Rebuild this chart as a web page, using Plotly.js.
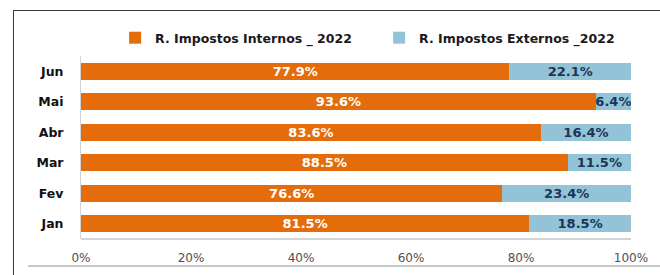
<!DOCTYPE html>
<html>
<head>
<meta charset="utf-8">
<script src="https://cdn.plot.ly/plotly-3.0.1.min.js"></script>
<style>
  html, body { margin: 0; padding: 0; background: #ffffff; }
  #wrap { position: relative; width: 660px; height: 275px; overflow: hidden; }
  #chart { position: absolute; left: 0; top: 0; width: 660px; height: 275px; }
  .frameTop { position: absolute; left: 13px; top: 10px; width: 660px; height: 0; border-top: 1.5px solid #3a3a3a; }
  .frameLeft { position: absolute; left: 13px; top: 10px; width: 0; height: 270px; border-left: 1.5px solid #3a3a3a; }
  .frameBottom { position: absolute; left: 28px; top: 265px; width: 640px; height: 0; border-top: 2px solid #c8c8c8; }
</style>
</head>
<body>
<div id="wrap">
  <div id="chart"></div>
  <div class="frameTop"></div>
  <div class="frameLeft"></div>
  <div class="frameBottom"></div>
</div>
<script>
// ---- data ----
var months = ['Jan', 'Fev', 'Mar', 'Abr', 'Mai', 'Jun'];
var internos = [81.5, 76.6, 88.5, 83.6, 93.6, 77.9];
var externos = [18.5, 23.4, 11.5, 16.4, 6.4, 22.1];
var seriesNames = ['R. Impostos Internos _ 2022', 'R. Impostos Externos _2022'];
var xTickVals = [0, 20, 40, 60, 80, 100];
var xTickText = ['0%', '20%', '40%', '60%', '80%', '100%'];

var ORANGE = '#E46C0A';
var BLUE = '#93C3D6';
var NAVY = '#1c3557';
var FONT = 'DejaVu Sans, Verdana, sans-serif';

var traces = [
  {
    type: 'bar', orientation: 'h', name: seriesNames[0],
    y: months, x: internos,
    marker: { color: ORANGE, line: { width: 0 } },
    texttemplate: '%{x:.1f}%', textposition: 'inside', insidetextanchor: 'middle',
    constraintext: 'none',
    insidetextfont: { family: FONT, size: 13, color: '#ffffff', weight: 'bold' },
    hoverinfo: 'skip'
  },
  {
    type: 'bar', orientation: 'h', name: seriesNames[1],
    y: months, x: externos,
    marker: { color: BLUE, line: { width: 0 } },
    texttemplate: '%{x:.1f}%', textposition: 'inside', insidetextanchor: 'middle',
    constraintext: 'none',
    insidetextfont: { family: FONT, size: 13, color: NAVY, weight: 'bold' },
    hoverinfo: 'skip'
  }
];

var layout = {
  width: 660, height: 275,
  margin: { l: 81, r: 29, t: 56, b: 36 },
  paper_bgcolor: 'rgba(0,0,0,0)',
  plot_bgcolor: 'rgba(0,0,0,0)',
  barmode: 'stack',
  bargap: 0.44,
  showlegend: true,
  legend: {
    orientation: 'h', x: 0.062, xanchor: 'left', y: 1.098, yanchor: 'middle',
    entrywidth: 219, entrywidthmode: 'pixels',
    font: { family: FONT, size: 12.5, color: '#1a1a1a', weight: 'bold' },
    traceorder: 'normal'
  },
  xaxis: {
    range: [0, 100], tickvals: xTickVals, ticktext: xTickText,
    showgrid: false, zeroline: false, showline: false,
    ticks: '', ticklabelstandoff: 10,
    tickfont: { family: FONT, size: 12, color: '#505050' },
    fixedrange: true
  },
  yaxis: {
    categoryorder: 'array', categoryarray: months,
    showgrid: false, zeroline: false,
    showline: true, linecolor: '#d4d4d4', linewidth: 1,
    ticks: '', ticklabelstandoff: 14,
    tickfont: { family: FONT, size: 12.5, color: '#111111', weight: 'bold' },
    fixedrange: true
  },
  shapes: [
    { type: 'line', xref: 'paper', yref: 'paper', x0: 0, x1: 1, y0: 0, y1: 0,
      line: { color: '#d4d4d4', width: 2 } }
  ]
};

Plotly.newPlot('chart', traces, layout, { displayModeBar: false, staticPlot: true });
</script>
</body>
</html>
